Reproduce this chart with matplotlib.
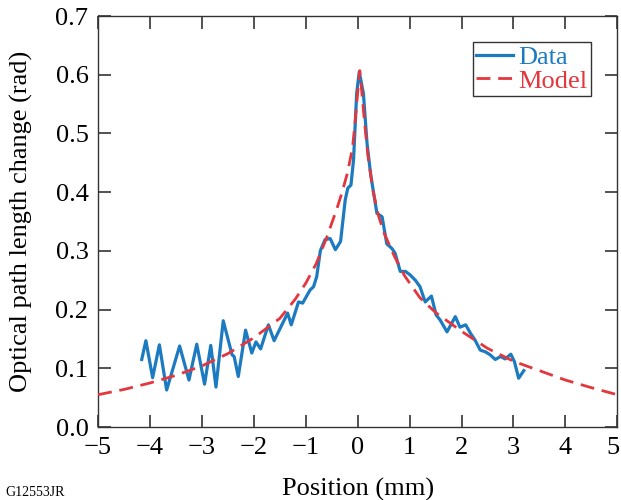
import matplotlib.pyplot as plt
import matplotlib.transforms as mtransforms

# measured profile (mm, rad)
data_x = [-4.16, -4.08, -3.95, -3.82, -3.68, -3.43, -3.25, -3.10, -2.95, -2.83,
          -2.73, -2.59, -2.42, -2.38, -2.30, -2.16, -2.04, -1.96, -1.87, -1.72,
          -1.61, -1.35, -1.28, -1.14, -1.06, -0.92, -0.85, -0.79, -0.72, -0.63,
          -0.53, -0.43, -0.33, -0.24, -0.19, -0.13, -0.08, -0.02, 0.03, 0.11,
          0.18, 0.25, 0.37, 0.47, 0.56, 0.66, 0.72, 0.82, 0.92, 1.01,
          1.11, 1.20, 1.30, 1.42, 1.51, 1.59, 1.72, 1.88, 1.97, 2.08,
          2.17, 2.26, 2.36, 2.46, 2.55, 2.65, 2.75, 2.84, 2.95, 3.02,
          3.10, 3.20]
data_y = [0.115, 0.147, 0.084, 0.140, 0.063, 0.138, 0.080, 0.141, 0.073, 0.139,
          0.068, 0.181, 0.123, 0.120, 0.086, 0.165, 0.126, 0.145, 0.133, 0.174,
          0.147, 0.194, 0.174, 0.213, 0.211, 0.233, 0.239, 0.256, 0.300, 0.319,
          0.321, 0.302, 0.316, 0.387, 0.407, 0.412, 0.455, 0.568, 0.605, 0.568,
          0.483, 0.430, 0.364, 0.358, 0.312, 0.304, 0.296, 0.265, 0.265, 0.259,
          0.250, 0.239, 0.213, 0.223, 0.191, 0.182, 0.162, 0.188, 0.170, 0.174,
          0.160, 0.148, 0.131, 0.128, 0.123, 0.115, 0.120, 0.116, 0.124, 0.111,
          0.083, 0.096]

# model curve
model_x = [-5.0, -4.5, -4.0, -3.5, -3.0, -2.5, -2.0, -1.5, -1.2, -1.0,
           -0.8, -0.6, -0.4, -0.3, -0.2, -0.1, -0.05, 0.0, 0.04, 0.08,
           0.13, 0.2, 0.3, 0.4, 0.5, 0.7, 0.9, 1.2, 1.5, 2.0,
           2.5, 3.0, 3.5, 4.0, 4.5, 5.0]
model_y = [0.055, 0.064, 0.075, 0.088, 0.104, 0.125, 0.152, 0.185, 0.218, 0.245,
           0.278, 0.322, 0.372, 0.400, 0.432, 0.475, 0.520, 0.570, 0.607, 0.570,
           0.520, 0.460, 0.400, 0.360, 0.332, 0.292, 0.258, 0.220, 0.195, 0.163,
           0.134, 0.112, 0.096, 0.080, 0.067, 0.055]

x_ticks = [-5, -4, -3, -2, -1, 0, 1, 2, 3, 4, 5]
y_ticks = [0.0, 0.1, 0.2, 0.3, 0.4, 0.5, 0.6, 0.7]

BLUE = "#1c7bc0"
RED = "#e3363d"
FS = 19

plt.rcParams["font.family"] = ["Liberation Serif", "DejaVu Serif"]

fig = plt.figure(figsize=(6.21, 5.0), dpi=100)
ax = fig.add_axes([0.158, 0.146, 0.836, 0.822])

ax.plot(data_x, data_y, color=BLUE, lw=2.3, solid_joinstyle="round", label="Data", zorder=2)
ax.plot(model_x, model_y, color=RED, lw=2.0, dashes=(5, 2.8), label="Model", zorder=3)

ax.set_xlim(-5, 5)
ax.set_ylim(0, 0.7)
ax.set_xticks(x_ticks)
ax.set_yticks(y_ticks)
ax.set_yticklabels([f"{v:.1f}" for v in y_ticks])
ax.tick_params(direction="in", length=9, width=1.2, top=True, right=True,
               labelsize=FS, pad=7, color="#333333")
for s in ax.spines.values():
    s.set_color("#333333")
    s.set_linewidth(1.0)

# nudge the last x label so it stays inside the canvas
last = ax.get_xticklabels()[-1]
last.set_transform(last.get_transform() +
                   mtransforms.ScaledTranslation(-4 / 100, 0, fig.dpi_scale_trans))

ax.set_xlabel("Position (mm)", fontsize=FS, labelpad=14)
ax.set_ylabel("Optical path length change (rad)", fontsize=FS, labelpad=16)

leg = ax.legend(loc="upper right", fontsize=FS, frameon=True, fancybox=False,
                framealpha=1, edgecolor="#333333", handlelength=1.4,
                handletextpad=0.2, borderpad=0.12, labelspacing=0.0,
                borderaxespad=1.0)
leg.get_frame().set_linewidth(1.0)
for txt, c in zip(leg.get_texts(), [BLUE, RED]):
    txt.set_color(c)

fig.text(0.008, 0.003, "G12553JR", fontsize=10, va="bottom", ha="left")

fig.savefig("out.png", dpi=100)
